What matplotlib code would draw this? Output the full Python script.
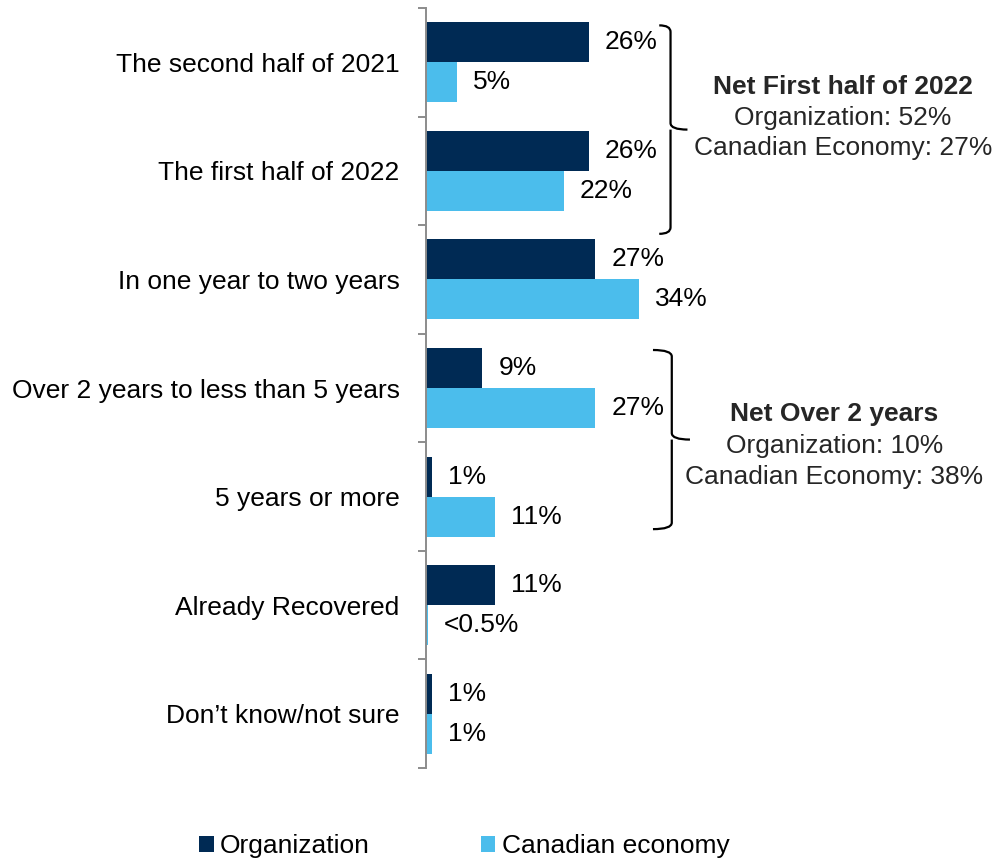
import numpy as np
import matplotlib
matplotlib.use("Agg")
import matplotlib.pyplot as plt
from matplotlib.patches import Patch
from matplotlib.path import Path
from matplotlib.patches import PathPatch

plt.rcParams["font.family"] = ["Liberation Sans", "DejaVu Sans"]

categories = [
    "The second half of 2021",
    "The first half of 2022",
    "In one year to two years",
    "Over 2 years to less than 5 years",
    "5 years or more",
    "Already Recovered",
    "Don\u2019t know/not sure",
]
organization = [26, 26, 27, 9, 1, 11, 1]
canadian_economy = [5, 22, 34, 27, 11, 0.3, 1]
series_names = ["Organization", "Canadian economy"]

net_titles = ["Net First half of 2022", "Net Over 2 years"]
net_organization = [52, 10]
net_economy = [27, 38]

NAVY = "#002A54"
SKY = "#4BBDEC"
FS = 19

fig = plt.figure(figsize=(9.94, 8.58), dpi=100)
W, H = 994, 858
ax = fig.add_axes([426 / W, 90 / H, (W - 426) / W, 760 / H])

y = np.arange(len(categories))
bh = 0.368
ax.barh(y - bh / 2, organization, height=bh, color=NAVY, label=series_names[0])
ax.barh(y + bh / 2, canadian_economy, height=bh, color=SKY, label=series_names[1])

ax.set_xlim(0, (W - 426) / 6.27)
ax.set_ylim(len(categories) - 0.5, -0.5)


def fmt(v):
    return "<0.5%" if v < 0.5 else f"{v:.0f}%"


offset = 16 / 6.27
for i, (o, e) in enumerate(zip(organization, canadian_economy)):
    ax.text(o + offset, i - bh / 2, fmt(o), va="center", ha="left", fontsize=FS, color="black")
    ax.text(e + offset, i + bh / 2, fmt(e), va="center", ha="left", fontsize=FS, color="black")

# axes styling
for s in ["top", "right", "bottom"]:
    ax.spines[s].set_visible(False)
ax.spines["left"].set_color("#8C8C8C")
ax.spines["left"].set_linewidth(1.4)
ax.set_xticks([])
ax.set_yticks(y)
ax.set_yticklabels(categories, fontsize=FS)
ax.tick_params(axis="y", which="major", length=0, pad=19)
ax.set_yticks(np.arange(-0.5, len(categories)), minor=True)
ax.tick_params(axis="y", which="minor", length=6, width=1.4, color="#8C8C8C")


def brace(x, top, bottom, hook=2.8, tip=2.8):
    mid = (top + bottom) / 2
    r = 0.06
    verts = [
        (x - hook, top), (x, top), (x, top + r),
        (x, mid - r), (x, mid), (x + tip, mid),
        (x, mid), (x, mid + r),
        (x, bottom - r), (x, bottom), (x - hook, bottom),
    ]
    codes = [
        Path.MOVETO, Path.CURVE3, Path.CURVE3,
        Path.LINETO, Path.CURVE3, Path.CURVE3,
        Path.MOVETO, Path.CURVE3,
        Path.LINETO, Path.CURVE3, Path.CURVE3,
    ]
    ax.add_patch(PathPatch(Path(verts, codes), fill=False, lw=1.6,
                           edgecolor="black", clip_on=False))


brace(39.0, -0.34, 1.58, hook=1.8, tip=2.7)
brace(39.2, 2.65, 4.30, hook=3.0, tip=2.9)

GRAY = "#262626"
blocks = [(66.5, [0.228, 0.513, 0.789]), (65.1, [3.24, 3.53, 3.82])]
for (bx, ys), title, no, ne in zip(blocks, net_titles, net_organization, net_economy):
    ax.text(bx, ys[0], title, ha="center", va="center", fontsize=FS,
            fontweight="bold", color=GRAY, clip_on=False)
    ax.text(bx, ys[1], f"Organization: {no}%", ha="center", va="center",
            fontsize=FS, color=GRAY, clip_on=False)
    ax.text(bx, ys[2], f"Canadian Economy: {ne}%", ha="center", va="center",
            fontsize=FS, color=GRAY, clip_on=False)

handles = [Patch(facecolor=NAVY), Patch(facecolor=SKY)]
fig.legend(handles, series_names, loc="center left",
           bbox_to_anchor=(199 / W, 1 - 846 / H), ncol=2, frameon=False,
           fontsize=FS, handlelength=0.55, handleheight=0.55,
           handletextpad=0.25, columnspacing=4.2, borderpad=0, borderaxespad=0)

fig.savefig("out.png", dpi=100)
